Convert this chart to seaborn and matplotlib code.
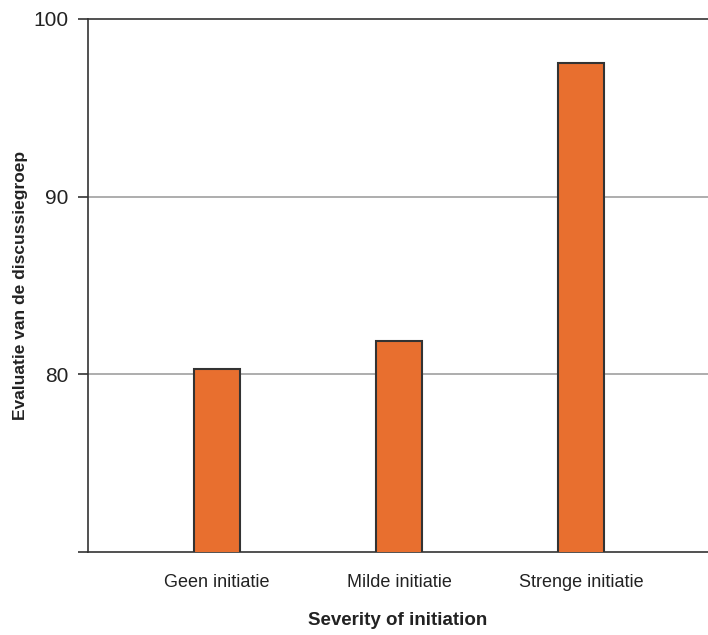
import matplotlib
matplotlib.use('Agg')
import matplotlib.pyplot as plt
import pandas as pd
import seaborn as sns

# values
conditions = ['Geen initiatie', 'Milde initiatie', 'Strenge initiatie']
evaluation = [80.3, 81.9, 97.5]
y_ticks = [70, 80, 90, 100]
y_tick_labels = ['', '80', '90', '100']


def main():
    data = pd.DataFrame({'condition': conditions, 'evaluation': evaluation})

    sns.set_style('white')
    plt.rcParams['font.family'] = ['Liberation Sans', 'DejaVu Sans']

    fig = plt.figure(figsize=(7.08, 6.35), dpi=100)
    ax = fig.add_axes([0.1243, 0.1307, 0.8757, 0.8394])

    sns.barplot(data=data, x='condition', y='evaluation', order=conditions,
                color='#E86F2F', saturation=1, width=0.253,
                edgecolor='#333333', linewidth=1.5, ax=ax, zorder=3)

    ax.set_ylim(70, 100)
    ax.set_xlim(-0.709, 2.698)
    ax.set_yticks(y_ticks)
    ax.set_yticklabels(y_tick_labels)

    # grey reference lines at 80 and 90
    for v in y_ticks[1:-1]:
        ax.axhline(v, color='#a0a0a0', lw=1.2, zorder=1)

    for side in ['left', 'bottom', 'top']:
        ax.spines[side].set_visible(True)
        ax.spines[side].set_color('#333333')
        ax.spines[side].set_linewidth(1.2)
    ax.spines['right'].set_visible(False)

    ax.tick_params(axis='y', left=True, length=7, width=1.2, color='#333333',
                   labelsize=15, pad=7, labelcolor='#222222')
    ax.tick_params(axis='x', bottom=False, length=0, labelsize=13, pad=16,
                   labelcolor='#222222')

    ax.set_xlabel('Severity of initiation', fontsize=13.5, fontweight='bold',
                  color='#222222')
    ax.xaxis.set_label_coords(0.5, -0.112)
    ax.set_ylabel('Evaluatie van de discussiegroep', fontsize=12.5, fontweight='bold',
                  color='#222222')
    ax.yaxis.set_label_coords(-0.097, 0.5)

    fig.savefig('out.png', dpi=100)


if __name__ == '__main__':
    main()
